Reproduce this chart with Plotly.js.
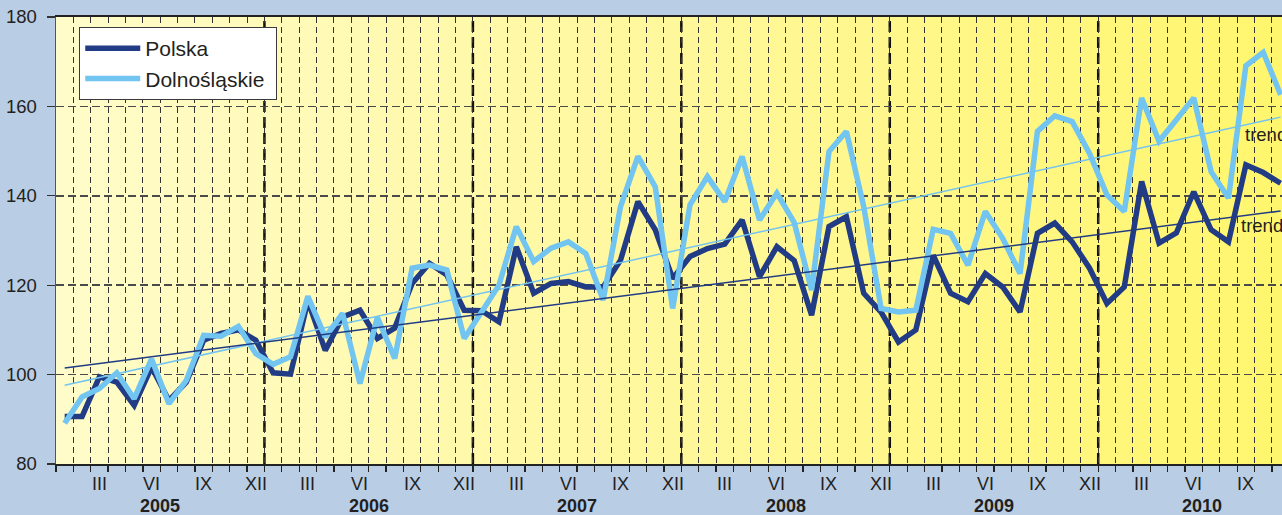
<!DOCTYPE html>
<html>
<head>
<meta charset="utf-8">
<script src="https://cdn.plot.ly/plotly-3.0.1.min.js"></script>
<style>
  html, body { margin: 0; padding: 0; width: 1282px; height: 515px; overflow: hidden; background: #b9cde5; }
  #bg { position: absolute; left: 56px; top: 17px; width: 1226px; height: 447px;
        background: linear-gradient(to right, #fffcca 0%, #fff8a0 45%, #fff66e 100%); z-index: 0; }
  #chart { position: absolute; left: 0; top: 0; width: 1282px; height: 515px; z-index: 1; }
</style>
</head>
<body>
<div id="bg"></div>
<div id="chart"></div>
<script>
// ---- data (monthly index, Jan 2005 .. Nov 2010) ----
const years = ['2005', '2006', '2007', '2008', '2009', '2010'];
const monthLabels = ['III', 'VI', 'IX', 'XII'];
const monthLabelPos = [2, 5, 8, 11]; // month index within a year (0 = I)

const polska = [
  90.6, 90.6, 99.5, 98.3, 93.1, 101.7, 94.2, 98.3, 107.7, 109.2, 110.0, 107.7,
  100.4, 100.1, 116.5, 105.4, 112.9, 114.4, 108.1, 110.4, 120.4, 124.9, 122.3, 114.4,
  114.3, 111.8, 128.6, 118.2, 120.4, 120.8, 119.6, 119.6, 125.6, 138.7, 132.4, 121.5,
  126.4, 128.2, 129.2, 134.6, 121.9, 128.6, 125.5, 113.3, 133.1, 135.3, 118.2, 114.0,
  107.3, 110.0, 126.7, 118.2, 116.3, 122.6, 119.6, 114.0, 131.6, 133.9, 129.7, 123.8,
  115.9, 119.6, 143.2, 129.4, 131.7, 140.9, 132.4, 129.7, 146.9, 145.2, 142.8
];
const dolnoslaskie = [
  89.1, 95.0, 96.9, 100.4, 94.6, 103.5, 93.5, 98.7, 108.8, 108.6, 110.8, 104.7,
  102.3, 104.0, 117.5, 108.4, 113.7, 98.0, 112.8, 103.6, 123.8, 124.5, 123.4, 108.1,
  114.0, 120.0, 133.1, 125.3, 128.3, 129.7, 127.1, 116.7, 137.6, 148.8, 142.0, 114.8,
  138.0, 144.3, 138.7, 148.8, 134.6, 140.6, 134.0, 118.9, 149.9, 154.4, 137.6, 114.8,
  114.0, 114.4, 132.5, 131.6, 124.5, 136.5, 130.5, 122.6, 154.4, 157.9, 156.6, 149.5,
  140.2, 136.5, 161.9, 152.2, 157.0, 161.9, 145.4, 139.5, 169.1, 172.1, 162.6
];
const trendIdx = [0, 70];
const polskaTrend = [101.5, 136.6];
const dolnoTrend = [97.6, 157.6];
const yTicks = [80, 100, 120, 140, 160, 180];

// ---- build ----
const x = polska.map((_, i) => i);
const dark = '#213c84';
const light = '#72c4f1';
const txt = '#231f20';
const font = 'Liberation Sans, Arial, sans-serif';
const pad = '\u00a0';

const traces = [
  { x: x, y: polska, type: 'scatter', mode: 'lines', name: 'Polska' + pad,
    line: { color: dark, width: 5.5 }, hoverinfo: 'none' },
  { x: x, y: dolnoslaskie, type: 'scatter', mode: 'lines', name: 'Dolnośląskie' + pad,
    line: { color: light, width: 5.5 }, hoverinfo: 'none' },
  { x: trendIdx, y: dolnoTrend, type: 'scatter', mode: 'lines', showlegend: false,
    line: { color: light, width: 1.5 }, hoverinfo: 'none' },
  { x: trendIdx, y: polskaTrend, type: 'scatter', mode: 'lines', showlegend: false,
    line: { color: dark, width: 1.5 }, hoverinfo: 'none' }
];

const nMonths = years.length * 12;
const boundaries = [];
for (let k = 0; k <= nMonths; k++) boundaries.push(k - 0.5);

const annotations = [];
years.forEach((yr, yi) => {
  monthLabels.forEach((lab, mi) => {
    annotations.push({ xref: 'x', yref: 'paper', x: yi * 12 + monthLabelPos[mi], y: -0.044,
      text: lab, showarrow: false, xanchor: 'center', yanchor: 'middle',
      font: { family: font, size: 18, color: txt } });
  });
  annotations.push({ xref: 'x', yref: 'paper', x: yi * 12 + 5.5, y: -0.0935,
    text: '<b>' + yr + '</b>', showarrow: false, xanchor: 'center', yanchor: 'middle',
    font: { family: font, size: 18, color: txt } });
});
annotations.push({ xref: 'x', yref: 'y', x: 67.83, y: 153.7, text: 'trend', showarrow: false,
  xanchor: 'left', yanchor: 'middle', font: { family: font, size: 18.5, color: txt } });
annotations.push({ xref: 'x', yref: 'y', x: 67.63, y: 133.3, text: 'trend', showarrow: false,
  xanchor: 'left', yanchor: 'middle', font: { family: font, size: 18.5, color: txt } });
// title (mostly above the visible area)
annotations.push({ xref: 'paper', yref: 'paper', x: 0.482, y: 1.036, text: '<b>(przeciętna miesięczna 2005=100)</b>',
  showarrow: false, xanchor: 'center', yanchor: 'bottom', font: { family: font, size: 19.5, color: txt } });

const shapes = [];
for (let yi = 1; yi < years.length; yi++) {
  shapes.push({ type: 'line', xref: 'x', yref: 'paper', x0: yi * 12 - 0.5, x1: yi * 12 - 0.5, y0: 0, y1: 1,
    layer: 'between', line: { color: '#111111', width: 2.5, dash: '11px,5px' } });
}

const layout = {
  width: 1282, height: 515,
  margin: { l: 56, r: 0, t: 17, b: 51, pad: 0 },
  paper_bgcolor: 'rgba(0,0,0,0)', plot_bgcolor: 'rgba(0,0,0,0)',
  showlegend: true,
  legend: { x: 0.0188, y: 0.978, xanchor: 'left', yanchor: 'top', bgcolor: '#ffffff',
    bordercolor: '#3a3a3a', borderwidth: 1.2, font: { family: font, size: 21, color: txt },
    traceorder: 'normal', itemwidth: 55 },
  xaxis: { range: [-0.5, 70.08], tickmode: 'array', tickvals: boundaries, ticktext: boundaries.map(() => ''),
    ticks: 'outside', ticklen: 6, tickwidth: 1.3, tickcolor: '#222',
    showgrid: true, gridcolor: '#333333', gridwidth: 1, griddash: '6px,4px',
    showline: true, linecolor: '#222', linewidth: 2, mirror: true, zeroline: false, fixedrange: true },
  yaxis: { range: [80, 180], tickmode: 'array', tickvals: yTicks, ticks: 'outside', ticklen: 8, tickwidth: 1.3,
    tickcolor: '#333', ticklabelstandoff: 6, tickfont: { family: font, size: 18.5, color: txt },
    showgrid: true, gridcolor: '#4a4a4a', gridwidth: 1.5, griddash: '8px,4px',
    showline: true, linecolor: '#555', linewidth: 1.5, zeroline: false, fixedrange: true },
  annotations: annotations,
  shapes: shapes
};

Plotly.newPlot('chart', traces, layout, { displayModeBar: false, staticPlot: true });
</script>
</body>
</html>
